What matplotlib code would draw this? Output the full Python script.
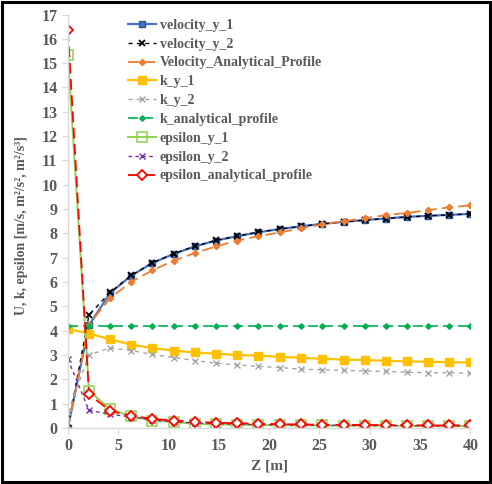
"""Velocity / k / epsilon profiles vs height Z."""
import matplotlib.pyplot as plt
import matplotlib.patches as patches

COLOR_TEXT = "#595959"
COLOR_AXIS = "#d9d9d9"

z = [0.0, 2.1, 4.2, 6.3, 8.4, 10.5, 12.6, 14.7, 16.8, 18.9,
     21.1, 23.2, 25.3, 27.4, 29.5, 31.6, 33.7, 35.8, 37.9, 40.0]

velocity_y_1 = [0.0, 4.22, 5.55, 6.26, 6.78, 7.15, 7.46, 7.70, 7.88, 8.04,
                8.18, 8.29, 8.39, 8.47, 8.55, 8.61, 8.68, 8.72, 8.76, 8.80]
velocity_y_2 = [0.0, 4.65, 5.57, 6.27, 6.79, 7.16, 7.47, 7.71, 7.89, 8.05,
                8.18, 8.29, 8.39, 8.47, 8.54, 8.61, 8.67, 8.72, 8.76, 8.80]
velocity_analytical = [0.0, 4.25, 5.34, 6.01, 6.48, 6.87, 7.19, 7.46, 7.70, 7.88,
                       8.04, 8.21, 8.37, 8.50, 8.62, 8.75, 8.84, 8.95, 9.07, 9.15]
k_y_1 = [4.07, 3.88, 3.64, 3.42, 3.28, 3.18, 3.10, 3.05, 3.00, 2.97,
         2.92, 2.88, 2.84, 2.81, 2.79, 2.76, 2.73, 2.72, 2.70, 2.69]
k_y_2 = [0.65, 3.00, 3.29, 3.18, 3.02, 2.89, 2.77, 2.66, 2.59, 2.53,
         2.48, 2.41, 2.39, 2.36, 2.34, 2.32, 2.29, 2.27, 2.26, 2.25]
k_analytical = [4.18] * 20
epsilon_y_1 = [15.35, 1.52, 0.78, 0.47, 0.30, 0.24, 0.16, 0.15, 0.12, 0.12,
               0.11, 0.10, 0.10, 0.09, 0.09, 0.09, 0.08, 0.08, 0.08, 0.08]
epsilon_y_2 = [2.82, 0.72, 0.56, 0.45, 0.32, 0.25, 0.20, 0.17, 0.15, 0.13,
               0.12, 0.11, 0.10, 0.10, 0.09, 0.09, 0.09, 0.08, 0.08, 0.08]
epsilon_analytical = [16.35, 1.38, 0.70, 0.49, 0.37, 0.30, 0.25, 0.21, 0.19, 0.17,
                      0.15, 0.14, 0.13, 0.12, 0.12, 0.11, 0.11, 0.10, 0.10, 0.10]

yticks = list(range(0, 18))
xticks = [0, 5, 10, 15, 20, 25, 30, 35, 40]

plt.rcParams["font.family"] = ["Liberation Serif", "DejaVu Serif"]
plt.rcParams["font.weight"] = "bold"

fig = plt.figure(figsize=(4.92, 4.84), dpi=100)
ax = fig.add_axes([0.138, 0.116, 0.818, 0.854])

series = [
    ("velocity_y_1", velocity_y_1, dict(color="#4472c4", ls="-", marker="s", ms=4.5, mfc="#4472c4", mec="#2f5597", lw=1.6)),
    ("velocity_y_2", velocity_y_2, dict(color="black", ls=(0, (3, 3)), marker="x", ms=4.5, mew=1.3, lw=1.0)),
    ("Velocity_Analytical_Profile", velocity_analytical, dict(color="#ed7d31", ls=(0, (6, 3)), marker="D", ms=3.2, lw=1.3)),
    ("k_y_1", k_y_1, dict(color="#ffc000", ls="-", marker="s", ms=5.5, lw=1.6)),
    ("k_y_2", k_y_2, dict(color="#a5a5a5", ls=(0, (3, 3)), marker="x", ms=4.5, mew=1.0, lw=1.0)),
    ("k_analytical_profile", k_analytical, dict(color="#00b050", ls=(0, (6, 3)), marker="D", ms=2.8, lw=1.2)),
    ("epsilon_y_1", epsilon_y_1, dict(color="#92d050", ls="-", marker="s", ms=6.5, mfc="none", mew=1.1, lw=1.4)),
    ("epsilon_y_2", epsilon_y_2, dict(color="#7030a0", ls=(0, (2.5, 2.5)), marker="x", ms=4.5, mew=1.0, lw=1.0)),
    ("epsilon_analytical_profile", epsilon_analytical, dict(color="#ff0000", ls=(0, (6, 3)), marker="D", ms=5, mfc="white", mew=1.3, lw=1.3)),
]
for label, vals, style in series:
    ax.plot(z, vals, label=label, **style)

ax.set_xlim(0, 40)
ax.set_ylim(0, 17)
ax.set_xticks(xticks)
ax.set_yticks(yticks)
for s in ["top", "right"]:
    ax.spines[s].set_visible(False)
for s in ["left", "bottom"]:
    ax.spines[s].set_color(COLOR_AXIS)
    ax.spines[s].set_linewidth(1.0)
ax.tick_params(colors=COLOR_AXIS, labelcolor=COLOR_TEXT, labelsize=11.5, length=4, direction="out")
ax.set_xlabel("Z [m]", fontsize=11, color=COLOR_TEXT, fontweight="bold", labelpad=4)
ax.set_ylabel("U, k, epsilon [m/s, m²/s², m²/s³]",
              fontsize=10, color=COLOR_TEXT, fontweight="bold", labelpad=6)
ax.yaxis.set_label_coords(-0.098, 0.49)

leg = ax.legend(loc="upper left", bbox_to_anchor=(0.118, 1.02), frameon=False,
                fontsize=10, handlelength=2.0, handletextpad=0.3, labelspacing=0.42)
for t in leg.get_texts():
    t.set_color(COLOR_TEXT)
    t.set_fontweight("bold")

# outer black frame around the whole picture
fig.patches.append(patches.Rectangle((0.004, 0.004), 0.992, 0.992, transform=fig.transFigure,
                                     fill=False, edgecolor="black", lw=2.2))

fig.savefig("out.png", dpi=100)
